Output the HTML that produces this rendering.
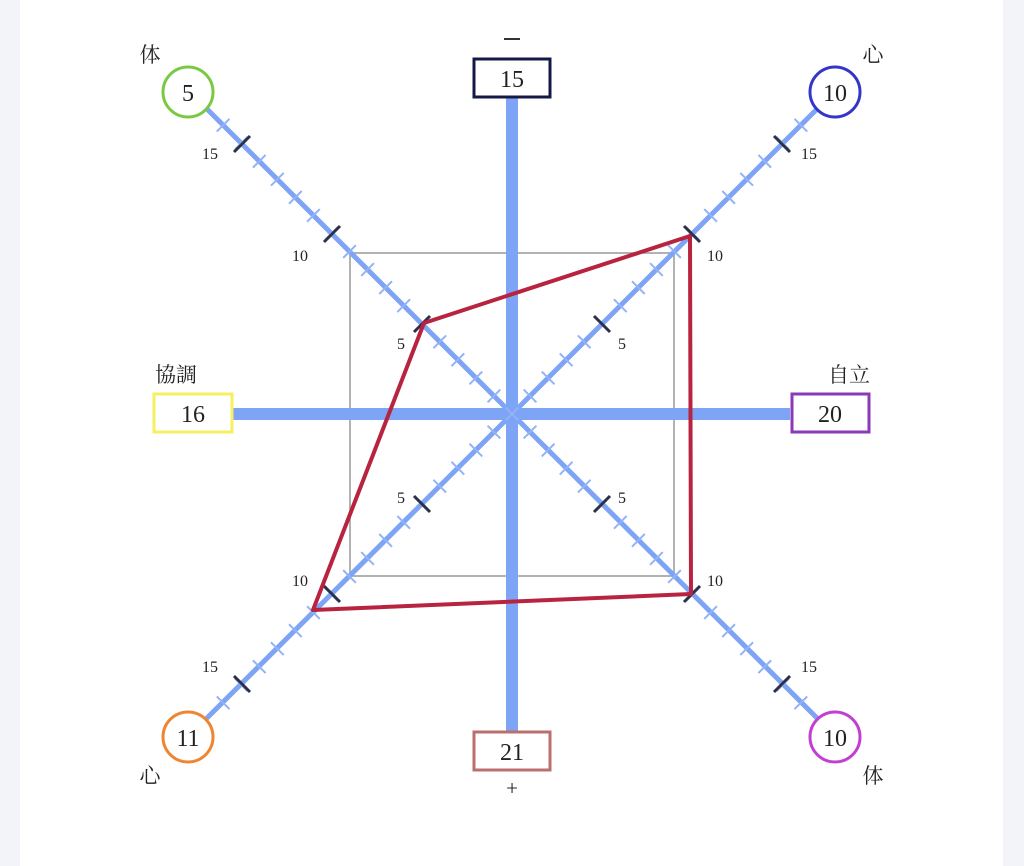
<!DOCTYPE html>
<html><head><meta charset="utf-8"><style>
html,body{margin:0;padding:0;background:#f3f4f9;}
.p{position:absolute;left:20px;top:0;width:983px;height:866px;background:#fff;}
svg{position:absolute;left:0;top:0;}
text{font-family:"Liberation Serif","Noto Serif CJK SC",serif;fill:#222;}
</style></head><body>
<div class="p"></div>
<svg width="1024" height="866" viewBox="0 0 1024 866">
<rect x="350" y="253" width="324" height="323" fill="none" stroke="#999" stroke-width="1.5"/>
<g stroke="#7ea4f6" fill="none">
<line x1="512" y1="98" x2="512" y2="731" stroke-width="12"/>
<line x1="233" y1="414" x2="790" y2="414" stroke-width="12"/>
<line x1="512" y1="414" x2="205" y2="107" stroke-width="5"/>
<line x1="512" y1="414" x2="819" y2="107" stroke-width="5"/>
<line x1="512" y1="414" x2="205" y2="720" stroke-width="5"/>
<line x1="512" y1="414" x2="819" y2="720" stroke-width="5"/>
<g stroke="#93b3f8" stroke-width="18" stroke-dasharray="2 23.53" stroke-dashoffset="1">
<line x1="512" y1="414" x2="206" y2="108"/>
<line x1="512" y1="414" x2="818" y2="108"/>
<line x1="512" y1="414" x2="206" y2="720"/>
<line x1="512" y1="414" x2="818" y2="720"/>
</g>
</g>
<g stroke="#2a3148" stroke-width="3">
<line x1="430" y1="316" x2="414" y2="332"/><line x1="340" y1="226" x2="324" y2="242"/><line x1="250" y1="136" x2="234" y2="152"/>
<line x1="594" y1="316" x2="610" y2="332"/><line x1="684" y1="226" x2="700" y2="242"/><line x1="774" y1="136" x2="790" y2="152"/>
<line x1="414" y1="496" x2="430" y2="512"/><line x1="324" y1="586" x2="340" y2="602"/><line x1="234" y1="676" x2="250" y2="692"/>
<line x1="610" y1="496" x2="594" y2="512"/><line x1="700" y1="586" x2="684" y2="602"/><line x1="790" y1="676" x2="774" y2="692"/>
</g>
<g font-size="16">
<text x="397" y="349">5</text><text x="292" y="261">10</text><text x="202" y="159">15</text>
<text x="618" y="349">5</text><text x="707" y="261">10</text><text x="801" y="159">15</text>
<text x="397" y="503">5</text><text x="292" y="586">10</text><text x="202" y="672">15</text>
<text x="618" y="503">5</text><text x="707" y="586">10</text><text x="801" y="672">15</text>
</g>
<polygon points="424,323 690,236 691,594 313,610" fill="none" stroke="#b8243f" stroke-width="4" stroke-linejoin="round"/>
<g stroke-width="3" fill="#fff">
<circle cx="188" cy="92" r="25" stroke="#7ac943"/>
<circle cx="835" cy="92" r="25" stroke="#3535c8"/>
<circle cx="188" cy="737" r="25" stroke="#ef8531"/>
<circle cx="835" cy="737" r="25" stroke="#c33ed2"/>
<rect x="474" y="59" width="76" height="38" stroke="#141a45"/>
<rect x="474" y="732" width="76" height="38" stroke="#b9706e"/>
<rect x="154" y="394" width="78" height="38" stroke="#f5f060"/>
<rect x="792" y="394" width="77" height="38" stroke="#8a3ab9"/>
</g>
<g font-size="24" text-anchor="middle">
<text x="188" y="101">5</text><text x="835" y="101">10</text><text x="188" y="746">11</text><text x="835" y="746">10</text>
<text x="512" y="87">15</text><text x="512" y="760">21</text><text x="193" y="422">16</text><text x="830" y="422">20</text>
</g>
<g font-size="21" text-anchor="middle">
<text x="150" y="62">体</text><text x="873" y="62">心</text><text x="150" y="783">心</text><text x="873" y="783">体</text>
<text x="176" y="382">協調</text><text x="849" y="382">自立</text>
<text x="512" y="795">+</text>
</g>
<line x1="504" y1="39" x2="520" y2="39" stroke="#333" stroke-width="2"/>
</svg>
</body></html>
